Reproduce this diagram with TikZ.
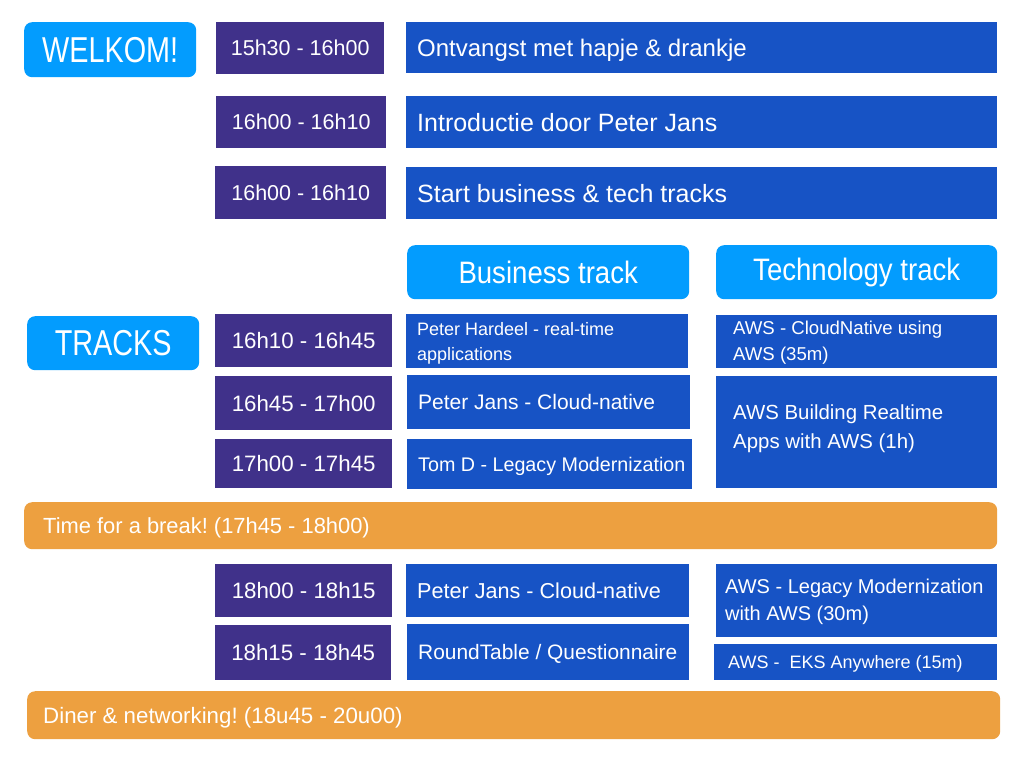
\documentclass[tikz,border=0pt]{standalone}
\usepackage{fontspec}
\setmainfont{Liberation Sans}
\newfontfamily\hdA[FakeStretch=0.89]{Liberation Sans}
\newfontfamily\hdB[FakeStretch=0.8]{Liberation Sans}
\definecolor{tpurple}{HTML}{40318A}
\definecolor{tblue}{HTML}{1753C5}
\definecolor{tlight}{HTML}{039CFE}
\definecolor{torange}{HTML}{EDA040}
\newcommand\fs[2]{\fontsize{#1}{#2}\selectfont}
% centred label: name, x1, y1, x2, y2, box style, text style, text
\newcommand\bxc[8]{%
  \pgfmathsetmacro\bxw{#4-#2}%
  \pgfmathsetmacro\bxh{#5-#3}%
  \node[#6, anchor=north west, inner sep=0pt, minimum width=\bxw pt, minimum height=\bxh pt] (#1) at (#2,#3) {};
  \node[lbl, align=center, #7] (#1-t) at (#1.center) {#8};}
% left label: name, x1, y1, x2, y2, box style, text style, pad, text
\newcommand\bxl[9]{%
  \pgfmathsetmacro\bxw{#4-#2}%
  \pgfmathsetmacro\bxh{#5-#3}%
  \node[#6, anchor=north west, inner sep=0pt, minimum width=\bxw pt, minimum height=\bxh pt] (#1) at (#2,#3) {};
  \node[lbl, align=left, anchor=west, #7] (#1-t) at ([xshift=#8pt]#1.west) {#9};}
\tikzset{
  lbl/.style={text=white, inner sep=0pt, execute at begin node=\frenchspacing},
  one/.style={text depth=0pt},
  timebox/.style={fill=tpurple},
  timefont/.style={font=\fs{21.5}{25}, one},
  timefontb/.style={font=\fs{22.3}{25}, one},
  talkbox/.style={fill=tblue},
  headbox/.style={fill=tlight, rounded corners=8pt},
  breakbox/.style={fill=torange, rounded corners=8pt},
}
\begin{document}
\begin{tikzpicture}[x=1pt,y=-1pt]
\useasboundingbox[fill=white] (0,0) rectangle (1024,768);
% welcome section
\bxc{welkom}{24}{22}{196}{77}{headbox}{font=\hdB\fs{36}{40}, one}{WELKOM!}
\bxc{t1}{216}{22}{384}{74}{timebox}{timefont}{15h30 - 16h00}
\bxc{t2}{216}{96}{386}{148}{timebox}{timefont}{16h00 - 16h10}
\bxc{t3}{215}{166}{386}{219}{timebox}{timefont}{16h00 - 16h10}
\bxl{a1}{406}{22}{997}{73}{talkbox}{font=\fs{24}{28}, one}{11}{Ontvangst met hapje \& drankje}
\bxl{a2}{406}{96}{997}{148}{talkbox}{font=\fs{25}{29}, one}{11}{Introductie door Peter Jans}
\bxl{a3}{406}{167}{997}{219}{talkbox}{font=\fs{25}{29}, one}{11}{Start business \& tech tracks}
% track headers
\bxc{bus}{407}{245}{689}{299}{headbox}{font=\hdA\fs{31}{35}}{Business track}
\bxc{tech}{716}{245}{997}{299}{headbox}{font=\hdA\fs{31}{35}}{Technology track}
\bxc{tracks}{27}{316}{199}{370}{headbox}{font=\hdB\fs{36}{40}, one}{TRACKS}
% tracks part 1
\bxc{t4}{215}{314}{392}{367}{timebox}{timefontb}{16h10 - 16h45}
\bxc{t5}{215}{376}{392}{430}{timebox}{timefontb}{16h45 - 17h00}
\bxc{t6}{215}{439}{392}{488}{timebox}{timefontb}{17h00 - 17h45}
\bxl{b1}{406}{314}{688}{368}{talkbox}{font=\fs{18}{25}, yshift=-2pt}{11}{Peter Hardeel - real-time\\applications}
\bxl{b2}{407}{375}{690}{429}{talkbox}{font=\fs{21}{25}, one}{11}{Peter Jans - Cloud-native}
\bxl{b3}{407}{439}{692}{489}{talkbox}{font=\fs{19.7}{24}, one}{11}{Tom D - Legacy Modernization}
\bxl{c1}{716}{315}{997}{368}{talkbox}{font=\fs{18.6}{26}, yshift=-1pt}{17}{AWS - CloudNative using\\AWS (35m)}
\bxl{c2}{716}{376}{997}{488}{talkbox}{font=\fs{20.4}{29}, yshift=3pt}{17}{AWS Building Realtime\\Apps with AWS (1h)}
% break
\bxl{brk}{24}{502}{997}{549}{breakbox}{font=\fs{21.9}{26}, one}{19}{Time for a break! (17h45 - 18h00)}
% tracks part 2
\bxc{t7}{215}{564}{392}{617}{timebox}{timefontb}{18h00 - 18h15}
\bxc{t8}{215}{625}{391}{680}{timebox}{timefontb}{18h15 - 18h45}
\bxl{b4}{406}{564}{689}{617}{talkbox}{font=\fs{21.6}{25}, one}{11}{Peter Jans - Cloud-native}
\bxl{b5}{407}{624}{689}{680}{talkbox}{font=\fs{20.9}{25}, one}{11}{RoundTable / Questionnaire}
\bxl{c3}{716}{564}{997}{637}{talkbox}{font=\fs{20}{27}, yshift=-1pt}{9}{AWS - Legacy Modernization\\with AWS (30m)}
\bxl{c4}{714}{644}{997}{680}{talkbox}{font=\fs{18}{22}, one}{14}{AWS -\ \ EKS Anywhere (15m)}
% dinner
\bxl{diner}{27}{691}{1000}{739}{breakbox}{font=\fs{22.3}{26}, one}{16}{Diner \& networking! (18u45 - 20u00)}
\end{tikzpicture}
\end{document}
